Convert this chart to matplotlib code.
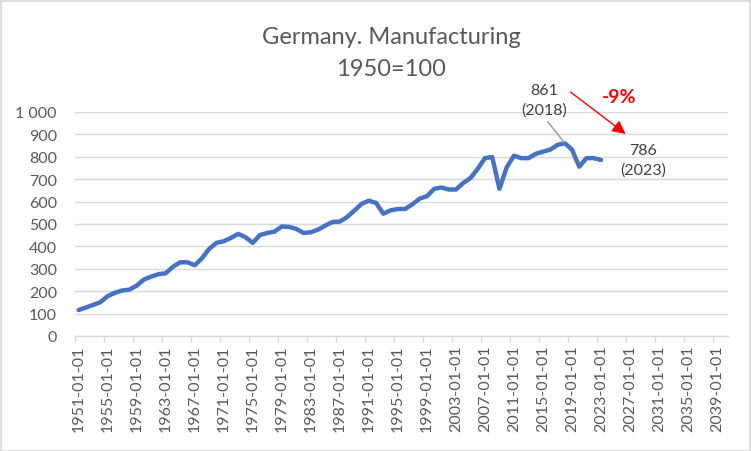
import matplotlib
matplotlib.use('Agg')
import matplotlib.pyplot as plt
from matplotlib.ticker import FixedLocator, FuncFormatter
from matplotlib.patches import Rectangle

plt.rcParams['font.family'] = ['Lato', 'DejaVu Sans']

# ---- data ----
title_lines = ["Germany. Manufacturing", "1950=100"]
categories = list(range(1951, 2041))          # category axis years
years = list(range(1951, 2024))
values = [116, 127, 139, 151, 178, 193, 203, 207, 225, 252,
          265, 276, 280, 309, 329, 329, 316, 347, 389, 416,
          423, 438, 456, 441, 416, 451, 460, 466, 489, 487,
          478, 460, 463, 475, 493, 509, 511, 531, 560, 590,
          604, 594, 546, 561, 567, 567, 588, 613, 624, 657,
          663, 654, 654, 683, 705, 746, 794, 799, 657, 753,
          805, 794, 794, 813, 823, 832, 853, 861, 832, 756,
          794, 794, 786]
tick_years = categories[::4]
tick_labels = [f"{y}-01-01" for y in tick_years]
peak_year, last_year = 2018, 2023
y_ticks = list(range(0, 1001, 100))

W, H = 751, 452
fig = plt.figure(figsize=(W / 100, H / 100), dpi=100)
ax = fig.add_axes([75 / W, 1 - 337 / H, (728 - 75) / W, (337 - 113) / H])

xs = [categories.index(y) for y in years]
ax.plot(xs, values, color='#4472C4', lw=3.2, solid_joinstyle='round',
        solid_capstyle='round', zorder=3)

ax.set_xlim(-0.5, len(categories) - 0.5)
ax.set_ylim(0, 1000)
ax.set_yticks(y_ticks)
ax.yaxis.set_major_formatter(FuncFormatter(lambda v, p: f"{int(v):,}".replace(',', ' ')))
ax.grid(axis='y', color='#d9d9d9', lw=1)
ax.set_axisbelow(True)
for s in ['top', 'right', 'left']:
    ax.spines[s].set_visible(False)
ax.spines['bottom'].set_color('#d9d9d9')
ax.spines['bottom'].set_linewidth(1)
ax.tick_params(axis='y', length=0, pad=13, labelcolor='#595959', labelsize=11.5)

ax.set_xticks([categories.index(y) for y in tick_years])
ax.set_xticklabels(tick_labels, rotation=90, va='top', ha='center')
ax.xaxis.set_minor_locator(FixedLocator([categories.index(y) - 0.5 for y in tick_years]))
ax.tick_params(axis='x', which='major', length=0, pad=6, labelcolor='#595959', labelsize=11.5)
ax.tick_params(axis='x', which='minor', length=4, width=1, color='#d9d9d9')

# annotations
ip = years.index(peak_year)
il = years.index(last_year)
ax.annotate(f"{values[ip]}\n({peak_year})", xy=(xs[ip], values[ip]),
            xytext=(-15, 31), textcoords='offset points', ha='center', va='center',
            color='#404040', fontsize=11.5, linespacing=1.45,
            arrowprops=dict(arrowstyle='-', color='#a6a6a6', lw=1.2,
                            relpos=(0.5, 0), shrinkA=2, shrinkB=1),
            annotation_clip=False)
ax.annotate(f"{values[il]}\n({last_year})", xy=(xs[il], values[il]),
            xytext=(30, 0), textcoords='offset points', ha='center', va='center',
            color='#404040', fontsize=11.5, linespacing=1.45, annotation_clip=False)

pct = round((values[il] / values[ip] - 1) * 100)
ax.text(xs[ip] + 7.5, 1070, f"{pct}%", color='#ff0000', fontsize=14,
        fontweight='bold', ha='center', va='center', clip_on=False)
ax.annotate('', xy=(75.4, 902), xytext=(67.8, 1089),
            arrowprops=dict(arrowstyle='-|>', color='#ff0000', lw=1,
                            mutation_scale=20, shrinkA=0, shrinkB=0),
            annotation_clip=False)

# title
fig.text(391 / W, 1 - 37 / H, title_lines[0], ha='center', va='center',
         fontsize=17, color='#595959')
fig.text(391 / W, 1 - 70 / H, title_lines[1], ha='center', va='center',
         fontsize=17, color='#595959')

fig.patches.append(Rectangle((0.5 / W, 0.5 / H), 1 - 2 / W, 1 - 2 / H,
                             transform=fig.transFigure, fill=False,
                             edgecolor='#d9d9d9', lw=1.2))

fig.savefig('out.png', dpi=100)
